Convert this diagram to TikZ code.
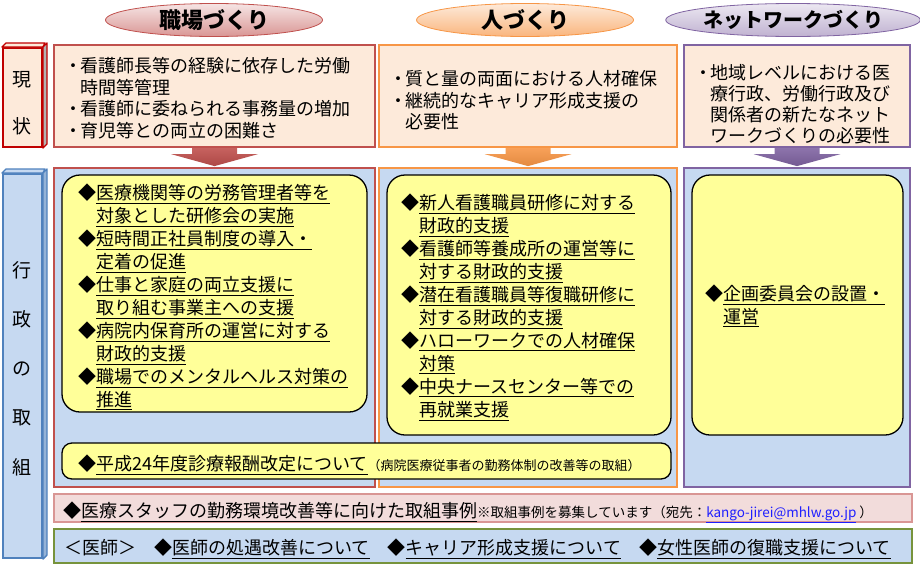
\documentclass[tikz,border=0pt]{standalone}
\usepackage{fontspec}
\setmainfont{Noto Sans CJK JP}
\usetikzlibrary{shapes.geometric,calc,positioning}

\definecolor{peach}{HTML}{FDEADA}
\definecolor{skyblue}{HTML}{C6D9F1}
\definecolor{lemon}{HTML}{FFFF99}
\definecolor{redline}{HTML}{C0504D}
\definecolor{orgline}{HTML}{F79646}
\definecolor{purline}{HTML}{8064A2}
\definecolor{grnline}{HTML}{77933C}
\definecolor{genred}{HTML}{C00000}
\definecolor{admblue}{HTML}{4F81BD}
\definecolor{pinkrow}{HTML}{F2DCDB}
\definecolor{pinkline}{HTML}{D99694}
\definecolor{linkblue}{HTML}{1F1FFF}

\newcommand\bul{\makebox[14pt][c]{・}}
\newcommand\ind{\hspace*{14pt}}
\newcommand\dind{\hspace*{18pt}}
\newcommand\uln[1]{\underline{#1}}
\newcommand\notesize{\fontsize{13.5}{16}\selectfont}
% block arrow below a box
\newcommand\blockdown[3]{%
  \shade[top color=#2,bottom color=#3] ($(#1.south)+(-22.5,0)$) -- ++(0,6) -- ++(-21,0)
    -- ($(#1.south)+(0,18)$) -- ($(#1.south)+(43.5,6)$) -- ++(-21,0) -- ++(0,-6) -- cycle;}

\begin{document}
\begin{tikzpicture}[x=1pt,y=-1pt,
    hdr/.style={ellipse,draw,line width=0.8pt,minimum width=217pt,minimum height=33pt,inner sep=0pt,font=\bfseries\fontsize{22}{24}\selectfont},
    sidebox/.style={draw,line width=2pt,minimum width=39pt,inner sep=0pt},
    face/.style={line width=1.4pt,line join=round},
    topbox/.style={draw,line width=2.2pt,fill=peach,inner sep=0pt},
    colbox/.style={draw,line width=2.2pt,fill=skyblue,inner sep=0pt},
    notebox/.style={draw,line width=1.3pt,fill=lemon,rounded corners=18pt,inner sep=0pt},
    rowbox/.style={draw,inner sep=0pt,minimum width=858pt},
    lbl/.style={align=center,inner sep=0pt},
    txt/.style={anchor=north west,align=left,inner sep=0pt,font=\fontsize{18}{21.7}\selectfont},
    lst/.style={txt,font=\fontsize{18}{23}\selectfont}]
  \useasboundingbox (0,0) rectangle (920,565);

  % headers
  \node [hdr,draw=redline,top color=redline!15,bottom color=redline!60] (hw) at (214,20) {職場づくり};
  \node [hdr,draw=orgline,top color=orgline!20,bottom color=orgline!70] (hh) at (525,20) {人づくり};
  \node [hdr,draw=purline,top color=purline!15,bottom color=purline!50,minimum width=219pt,font=\bfseries\fontsize{20}{24}\selectfont] (hn) at (793,20) {ネットワークづくり};

  % current situation
  \node [sidebox,draw=genred,fill=peach,minimum height=99pt] (gen) at (22.5,97.5) {};
  \draw [face,draw=genred,fill=peach] (gen.north west) -- ++(4,-4) -- ++(39,0) -- (gen.north east) -- cycle;
  \draw [face,draw=genred,fill=black!30] (gen.north east) -- ++(4,-4) -- ($(gen.south east)+(4,-4)$) -- (gen.south east) -- cycle;
  \node [lbl,font=\fontsize{19}{47}\selectfont] (gent) at (22,103.5) {現\\状};

  \node [topbox,draw=redline,minimum width=321pt,minimum height=102pt] (sw) at (214.5,96) {};
  \node [topbox,draw=orgline,minimum width=298pt,minimum height=102pt] (sh) at (528,96) {};
  \node [topbox,draw=purline,minimum width=226pt,minimum height=102pt] (sn) at (797,96) {};

  \node [txt] (swt) at (66,57) {\bul 看護師長等の経験に依存した労働\\ \ind 時間等管理\\ \bul 看護師に委ねられる事務量の増加\\ \bul 育児等との両立の困難さ};
  \node [txt] (sht) at (391,70) {\bul 質と量の両面における人材確保\\ \bul 継続的なキャリア形成支援の\\ \ind 必要性};
  \node [txt,font=\fontsize{18}{21}\selectfont] (snt) at (696,64) {\bul 地域レベルにおける医\\ \ind 療行政、労働行政及び\\ \ind 関係者の新たなネット\\ \ind ワークづくりの必要性};

  \blockdown{sw}{redline!90}{redline!90!black}
  \blockdown{sh}{orgline!90}{orgline!92!black}
  \blockdown{sn}{purline!90}{purline!90!black}

  % administration
  \node [sidebox,draw=admblue,fill=skyblue,minimum height=384pt] (adm) at (22.5,366) {};
  \draw [face,draw=admblue,fill=skyblue] (adm.north west) -- ++(4,-4) -- ++(39,0) -- (adm.north east) -- cycle;
  \draw [face,draw=admblue,fill=admblue!60] (adm.north east) -- ++(4,-4) -- ($(adm.south east)+(4,-4)$) -- (adm.south east) -- cycle;
  \node [lbl,font=\fontsize{19}{49.25}\selectfont] (admt) at (22,368.5) {行\\政\\の\\取\\組};

  \node [colbox,draw=redline,minimum width=321pt,minimum height=319pt] (aw) at (214.5,327.5) {};
  \node [colbox,draw=orgline,minimum width=298pt,minimum height=319pt] (ah) at (528,327.5) {};
  \node [colbox,draw=purline,minimum width=226pt,minimum height=319pt] (an) at (797,327.5) {};

  \node [notebox,minimum width=305pt,minimum height=237pt] (nw) at (214.5,293.5) {};
  \node [notebox,minimum width=284pt,minimum height=260pt] (nh) at (529,305) {};
  \node [notebox,minimum width=211pt,minimum height=260pt] (nn) at (797.5,305) {};
  \node [notebox,minimum width=609pt,minimum height=36pt,rounded corners=10pt] (fee) at (366.5,461) {};

  \node [lst] (nwt) at (78,184) {◆\uln{医療機関等の労務管理者等を}\\ \dind\uln{対象とした研修会の実施}\\
    ◆\uln{短時間正社員制度の導入・}\\ \dind\uln{定着の促進}\\
    ◆\uln{仕事と家庭の両立支援に}\\ \dind\uln{取り組む事業主への支援}\\
    ◆\uln{病院内保育所の運営に対する}\\ \dind\uln{財政的支援}\\
    ◆\uln{職場でのメンタルヘルス対策の}\\ \dind\uln{推進}};
  \node [lst] (nht) at (401,194) {◆\uln{新人看護職員研修に対する}\\ \dind\uln{財政的支援}\\
    ◆\uln{看護師等養成所の運営等に}\\ \dind\uln{対する財政的支援}\\
    ◆\uln{潜在看護職員等復職研修に}\\ \dind\uln{対する財政的支援}\\
    ◆\uln{ハローワークでの人材確保}\\ \dind\uln{対策}\\
    ◆\uln{中央ナースセンター等での}\\ \dind\uln{再就業支援}};
  \node [lst] (nnt) at (705,285) {◆\uln{企画委員会の設置・}\\ \dind\uln{運営}};
  \node [lst] (feet) at (78,455) {◆\uln{平成24年度診療報酬改定について}{\fontsize{13}{16}\selectfont（病院医療従事者の勤務体制の改善等の取組）}};

  % bottom rows
  \node [rowbox,draw=pinkline,line width=1.5pt,fill=pinkrow,minimum height=28pt] (case) at (483,508) {};
  \node [rowbox,draw=grnline,line width=2.5pt,fill=skyblue,minimum height=34pt] (doc) at (483,546) {};
  \node [lst] (caset) at (63,502) {◆\uln{医療スタッフの勤務環境改善等に向けた取組事例}{\notesize ※取組事例を募集しています（宛先：\textcolor{linkblue}{\uln{kango-jirei@mhlw.go.jp}} ）}};
  \node [lst] (doct) at (64,539) {＜医師＞　◆\uln{医師の処遇改善について}　◆\uln{キャリア形成支援について}　◆\uln{女性医師の復職支援について}};
\end{tikzpicture}
\end{document}
